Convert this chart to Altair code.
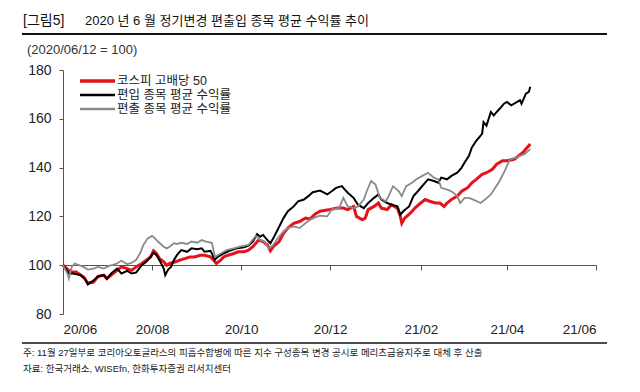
import altair as alt
import pandas as pd

START = "2020-06-12"
SERIES = ["코스피 고배당 50", "편입 종목 평균 수익률", "편출 종목 평균 수익률"]
COLORS = ["#e3121b", "#000000", "#8a8a8a"]

# days since 2020-06-12 and index values (2020/06/12 = 100)
red_days = [0,4,6,9,14,17,21,24,28,30,33,37,40,44,47,50,54,57,60,62,64,66,69,71,73,77,80,84,87,90,94,97,101,103,105,108,110,113,117,120,124,127,130,134,137,140,142,144,148,151,154,158,162,166,169,173,176,183,188,192,195,199,201,205,207,209,213,216,218,222,225,229,231,232,234,238,241,245,248,251,255,258,261,263,266,270,273,277,280,283,287,290,294,297,301,304,309,312,315,318,320]
red_vals = [100.0,97.9,97.2,97.2,95.2,92.7,93.1,95.4,95.9,94.5,95.9,97.9,99.3,98.6,97.9,99.3,100.7,102.1,103.4,105.9,104.8,102.8,101.4,100.0,100.7,101.4,102.1,102.8,103.4,103.4,104.1,104.1,103.4,102.1,100.7,102.1,103.4,104.1,104.8,105.5,105.5,106.2,107.6,110.3,109.7,108.3,105.9,107.6,109.7,113.1,115.2,117.2,117.9,119.3,118.9,121.1,122.1,122.8,123.4,123.4,122.8,124.1,120.0,118.6,119.3,122.8,124.1,125.5,123.4,122.8,124.8,123.4,120.0,117.2,119.3,121.4,123.4,125.5,126.9,126.2,125.5,125.5,124.1,125.5,126.9,128.3,130.3,131.7,133.8,135.2,137.2,137.9,139.3,141.4,142.8,142.8,143.4,144.8,146.2,148.3,149.7]

black_days = [0,4,7,12,15,17,21,24,28,30,33,37,40,44,47,50,54,57,60,62,64,66,69,70,72,74,76,78,81,85,88,92,95,97,101,104,106,110,114,119,124,127,130,133,135,137,140,142,144,147,151,154,158,161,165,168,171,176,181,184,187,191,193,195,199,202,206,209,213,216,218,222,225,229,231,233,237,240,243,247,250,254,257,259,263,266,270,273,275,278,280,283,287,288,290,293,295,297,299,302,304,307,311,313,314,317,319,320]
black_vals = [100.0,96.6,96.6,95.9,94.5,92.1,93.8,95.4,95.9,94.5,96.6,98.6,96.6,97.7,96.6,97.0,100.0,101.4,103.4,105.1,104.1,102.1,98.6,95.9,98.2,99.3,102.1,104.1,106.2,105.5,106.9,106.5,106.9,105.5,105.9,102.3,103.4,104.8,105.9,106.9,107.3,108.0,109.7,112.8,111.7,112.4,110.3,109.0,111.0,114.5,119.3,122.1,124.1,126.2,126.9,128.3,129.9,130.6,129.0,130.3,131.7,132.4,131.0,129.7,127.6,124.8,123.4,125.5,127.6,129.0,126.9,125.5,124.8,124.1,120.7,122.1,124.1,128.3,130.3,133.1,135.2,134.5,133.8,135.9,135.2,136.6,137.9,140.0,142.1,144.8,148.3,151.0,153.8,158.6,157.2,162.8,161.4,162.8,164.1,166.2,166.9,165.5,166.9,167.6,166.2,170.3,171.0,173.1]

gray_days = [0,3,4,6,8,11,14,17,21,24,28,31,36,40,44,47,50,53,55,58,61,63,65,69,71,73,76,78,81,85,88,92,95,98,102,104,108,112,117,121,127,132,135,138,141,144,147,151,154,158,162,166,169,173,176,181,184,189,192,195,199,202,206,208,211,214,217,221,223,226,230,232,235,239,242,246,250,254,257,259,263,266,270,272,275,278,281,286,289,293,296,299,303,306,310,313,316,320]
gray_vals = [100.0,96.6,94.5,99.3,100.7,100.0,99.3,98.2,98.6,99.3,98.6,99.6,100.4,101.8,100.4,101.0,102.1,105.1,108.3,111.0,112.0,111.0,109.7,107.6,106.9,107.6,109.0,108.7,109.2,108.7,109.7,109.2,110.3,109.7,109.2,103.4,104.8,106.2,106.9,107.6,108.3,112.0,110.3,109.7,106.9,108.3,111.0,113.8,115.2,115.9,115.2,117.2,118.6,119.7,120.3,120.0,122.8,123.4,127.6,124.1,123.4,124.1,126.9,130.3,134.5,133.1,127.6,126.2,128.3,132.4,130.3,128.3,132.4,133.8,135.2,136.6,137.9,135.9,135.2,131.7,131.0,130.3,128.3,125.5,127.6,127.6,126.9,125.5,126.9,129.0,131.7,134.5,139.3,143.4,144.1,144.8,145.5,147.6]

Y_TICKS = [80, 100, 120, 140, 160, 180]
X_TICK_MONTHS = [(2020, 6), (2020, 8), (2020, 10), (2020, 12), (2021, 2), (2021, 4), (2021, 6)]

TITLE_TAG = "[그림5]"
TITLE = "2020 년 6 월 정기변경 편출입 종목 평균 수익률 추이"
UNIT = "(2020/06/12 = 100)"
NOTE = "주: 11월 27일부로 코리아오토글라스의 피흡수합병에 따른 지수 구성종목 변경 공시로 메리츠금융지주로 대체 후 산출"
SOURCE = "자료: 한국거래소, WISEfn, 한화투자증권 리서치센터"

FONT = "Liberation Sans, Noto Sans CJK KR"

frames = []
for name, d, v in [(SERIES[0], red_days, red_vals), (SERIES[1], black_days, black_vals), (SERIES[2], gray_days, gray_vals)]:
    dates = pd.Timestamp(START) + pd.to_timedelta(d, unit="D")
    frames.append(pd.DataFrame({"date": dates.strftime("%Y-%m-%dT00:00:00"), "value": v, "series": name}))
df = pd.concat(frames, ignore_index=True)

x_scale = alt.Scale(domain=[alt.DateTime(year=2020, month=6, date=12), alt.DateTime(year=2021, month=6, date=12)], nice=False)
y_scale = alt.Scale(domain=[80, 180], nice=False, zero=False)

x_axis = alt.Axis(
    values=[alt.DateTime(year=y, month=m, date=12) for y, m in X_TICK_MONTHS],
    format="%y/%m", title=None, grid=False, offset=-49,
    domainColor="#555555", tickColor="#555555", tickSize=5, labelPadding=52,
    labelFontSize=13.5, labelColor="#222222", labelFont=FONT, labelAngle=0,
)
y_axis = alt.Axis(
    values=Y_TICKS, title=None, grid=False,
    domainColor="#555555", tickColor="#555555", tickSize=4, labelPadding=8,
    labelFontSize=14, labelColor="#222222", labelFont=FONT,
)

layers = []
widths = [3, 2, 1.8]
for i, name in enumerate(SERIES):
    sub = df[df["series"] == name]
    layers.append(
        alt.Chart(sub).mark_line(strokeWidth=widths[i], color=COLORS[i], interpolate="linear").encode(
            x=alt.X("date:T", scale=x_scale, axis=x_axis),
            y=alt.Y("value:Q", scale=y_scale, axis=y_axis),
            order="date:T",
        )
    )

def txt(text, x, y, size, color="#222222"):
    return alt.Chart(alt.Data(values=[{"t": text}])).mark_text(
        align="left", baseline="middle", fontSize=size, font=FONT, color=color
    ).encode(x=alt.value(x), y=alt.value(y), text="t:N")

def rule(x1, x2, y, color, w):
    return alt.Chart(alt.Data(values=[{"a": 1}])).mark_rule(color=color, strokeWidth=w).encode(
        x=alt.value(x1), x2=alt.value(x2), y=alt.value(y)
    )

# legend
legend_y = [11, 25, 39]
for i, name in enumerate(SERIES):
    layers.append(rule(17, 52, legend_y[i], COLORS[i], widths[i] + 0.5))
    layers.append(txt(name, 54, legend_y[i], 12.5, "#222222"))

# header / footer
layers.append(txt(TITLE_TAG, -40, -49, 14, "#111111"))
layers.append(txt(TITLE, 22, -49, 13, "#111111"))
layers.append(rule(-41, 544, -36, "#111111", 2))
layers.append(txt(UNIT, -36, -20, 13, "#333333"))
layers.append(rule(-41, 544, 273, "#111111", 1.5))
layers.append(txt(NOTE, -40, 283, 9.5, "#222222"))
layers.append(txt(SOURCE, -40, 299, 9.5, "#222222"))

chart = alt.layer(*layers).properties(
    width=533, height=244,
    autosize="none",
    padding={"left": 55, "top": 62, "right": 36, "bottom": 70},
    background="white",
).configure_view(stroke=None)

chart.save("out.html", embed_options={"renderer": "svg", "actions": False})
